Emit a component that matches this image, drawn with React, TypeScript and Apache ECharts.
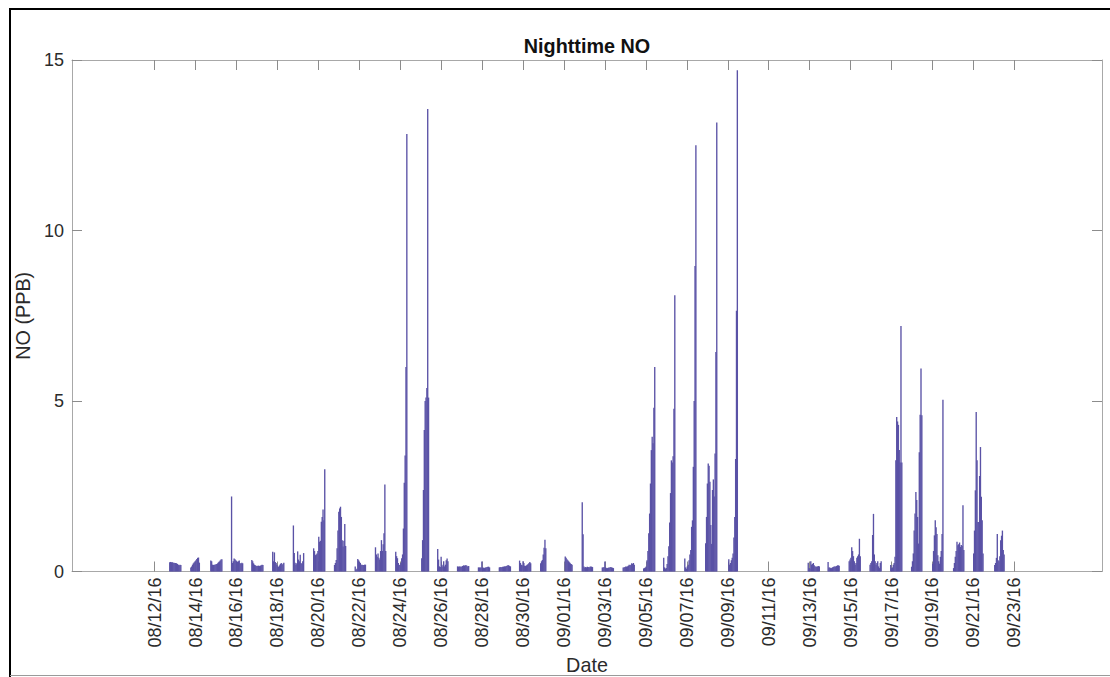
import React, { useEffect, useRef } from "react";
import * as echarts from "echarts";

// x values are days since 2016-08-12 00:00
const X_MIN = -4.035;
const X_MAX = 46.28;

const tickDays = [0, 2, 4, 6, 8, 10, 12, 14, 16, 18, 20, 22, 24, 26, 28, 30, 32, 34, 36, 38, 40, 42];
const tickLabels = [
  "08/12/16", "08/14/16", "08/16/16", "08/18/16", "08/20/16", "08/22/16", "08/24/16", "08/26/16",
  "08/28/16", "08/30/16", "09/01/16", "09/03/16", "09/05/16", "09/07/16", "09/09/16", "09/11/16",
  "09/13/16", "09/15/16", "09/17/16", "09/19/16", "09/21/16", "09/23/16",
];
const yTicks = [0, 5, 10, 15];

// start of each night's hourly record (days since 08/12/16 00:00)
const nightStartDays = [
  0.74, 1.77, 2.745, 3.76, 4.75, 5.77, 6.78, 7.77, 8.79, 9.8,
  10.79, 11.78, 13.05, 13.83, 14.8, 15.82, 16.84, 17.83, 18.86, 20.06,
  20.89, 21.87, 22.89, 23.89, 24.87, 25.9, 26.92, 28.05, 31.93, 32.9,
  33.93, 34.95, 35.96, 36.98, 38.01, 39.03, 40.01, 41.04,
];

// hourly nighttime NO (ppb) for each night
const nightValues = [
  [0.27, 0.28, 0.27, 0.27, 0.26, 0.26, 0.25, 0.25, 0.24, 0.22, 0.2, 0.18, 0.2, 0.19],
  [0.12, 0.15, 0.2, 0.24, 0.27, 0.3, 0.33, 0.37, 0.4, 0.41, 0.26],
  [0.32, 0.3, 0.2, 0.19, 0.2, 0.2, 0.21, 0.22, 0.24, 0.27, 0.29, 0.32, 0.35, 0.36],
  [2.2, 0.25, 0.3, 0.38, 0.36, 0.33, 0.3, 0.28, 0.3, 0.32, 0.25, 0.22, 0.26, 0.24],
  [0.34, 0.3, 0.24, 0.2, 0.18, 0.17, 0.16, 0.17, 0.17, 0.16, 0.17, 0.18, 0.2, 0.19],
  [0.58, 0.3, 0.56, 0.28, 0.25, 0.2, 0.15, 0.14, 0.18, 0.22, 0.25, 0.2, 0.23, 0.26],
  [1.35, 0.54, 0.26, 0.2, 0.24, 0.59, 0.35, 0.3, 0.49, 0.25, 0.22, 0.3, 0.54],
  [0.68, 0.6, 0.48, 0.5, 0.53, 0.6, 1.02, 0.87, 0.9, 1.46, 1.6, 1.82, 1.5, 3.0],
  [0.19, 0.25, 0.34, 0.68, 1.2, 1.75, 1.85, 1.9, 1.6, 0.92, 0.73, 0.9, 1.39, 0.75],
  [0.15, 0.05, 0.08, 0.37, 0.33, 0.28, 0.25, 0.2, 0.2, 0.19, 0.19, 0.2, 0.2],
  [0.71, 0.5, 0.43, 0.53, 0.4, 0.35, 0.6, 0.92, 0.6, 0.8, 1.12, 2.55, 0.6],
  [0.58, 0.45, 0.39, 0.25, 0.19, 0.2, 0.25, 0.39, 0.5, 1.26, 2.6, 3.4, 6.0, 12.83],
  [0.39, 0.92, 2.39, 4.15, 5.0, 5.1, 5.38, 13.56, 5.1],
  [0.66, 0.35, 0.15, 0.13, 0.43, 0.2, 0.15, 0.3, 0.15, 0.2, 0.33, 0.38, 0.3],
  [0.15, 0.14, 0.15, 0.15, 0.14, 0.15, 0.16, 0.18, 0.17, 0.18, 0.18, 0.17, 0.15, 0.16],
  [0.12, 0.12, 0.12, 0.12, 0.29, 0.12, 0.11, 0.1, 0.12, 0.12, 0.13, 0.14, 0.14, 0.12],
  [0.12, 0.13, 0.12, 0.13, 0.14, 0.14, 0.15, 0.15, 0.16, 0.17, 0.18, 0.18, 0.16, 0.15],
  [0.32, 0.25, 0.2, 0.18, 0.3, 0.25, 0.17, 0.16, 0.18, 0.2, 0.22, 0.25, 0.28, 0.24],
  [0.24, 0.3, 0.34, 0.5, 0.7, 0.93, 0.68],
  [0.44, 0.4, 0.36, 0.33, 0.3, 0.27, 0.24, 0.22, 0.2],
  [2.03, 1.09, 0.15, 0.12, 0.13, 0.12, 0.14, 0.13, 0.12, 0.14, 0.15, 0.14, 0.13],
  [0.12, 0.12, 0.13, 0.29, 0.12, 0.1, 0.1, 0.11, 0.12, 0.12, 0.13, 0.12, 0.11, 0.1],
  [0.12, 0.12, 0.13, 0.15, 0.14, 0.15, 0.17, 0.2, 0.18, 0.2, 0.24, 0.22, 0.25, 0.2],
  [0.09, 0.1, 0.12, 0.15, 0.33, 0.6, 1.12, 1.7, 2.58, 3.56, 3.95, 3.76, 4.8, 6.0],
  [0.4, 0.12, 0.08, 0.1, 0.22, 0.45, 0.74, 1.44, 2.3, 3.26, 3.2, 3.38, 4.77, 8.1],
  [0.38, 0.12, 0.08, 0.15, 0.2, 0.33, 0.5, 0.63, 1.31, 1.5, 3.07, 5.0, 8.96, 12.5],
  [0.83, 1.6, 2.58, 3.17, 3.1, 2.63, 1.36, 0.81, 2.39, 2.7, 2.2, 3.46, 6.44, 13.17],
  [0.36, 0.2, 0.25, 0.33, 0.4, 0.53, 1.0, 1.6, 3.3, 7.65, 14.7],
  [0.26, 0.1, 0.08, 0.3, 0.2, 0.22, 0.25, 0.18, 0.15, 0.15, 0.14, 0.15, 0.16, 0.15],
  [0.28, 0.12, 0.12, 0.1, 0.1, 0.12, 0.13, 0.15, 0.15, 0.15, 0.16, 0.18, 0.18, 0.17],
  [0.3, 0.35, 0.4, 0.71, 0.6, 0.45, 0.3, 0.2, 0.25, 0.4, 0.45, 0.5, 0.96, 0.45],
  [0.2, 0.25, 0.3, 1.07, 1.69, 0.5, 0.3, 0.2, 0.25, 0.3, 0.15, 0.1, 0.25, 0.3],
  [0.19, 0.1, 0.12, 0.2, 0.25, 0.43, 3.26, 4.53, 4.4, 4.3, 3.56, 3.2, 7.2, 3.2],
  [0.14, 0.3, 0.53, 1.2, 1.7, 2.33, 2.1, 1.6, 0.82, 3.5, 4.6, 5.95, 4.58],
  [0.23, 0.6, 1.06, 1.5, 1.3, 1.1, 0.48, 0.3, 0.23, 0.43, 0.6, 1.1, 5.04],
  [0.1, 0.25, 0.43, 0.6, 0.87, 0.77, 0.8, 0.85, 0.72, 0.78, 0.75, 1.94, 0.63],
  [0.53, 1.2, 2.38, 4.68, 3.26, 1.45, 1.45, 2.8, 3.65, 2.19, 1.5, 0.53],
  [0.19, 0.25, 0.4, 1.1, 0.33, 0.3, 0.45, 0.92, 1.05, 1.2, 0.63, 0.5],
];

const FONT = "'Liberation Sans', Arial, Helvetica, sans-serif";
const AXIS_COLOR = "#a8a8a8";
const TICK_COLOR = "#8c8c8c";
const TEXT_COLOR = "#2b2b2b";
const BAR_COLOR = "#5a52a6";

export default function App() {
  const ref = useRef<HTMLDivElement>(null);

  useEffect(() => {
    document.body.style.margin = "0";
    if (!ref.current) return;
    const chart = echarts.init(ref.current, undefined, { renderer: "svg" });

    const data: [number, number][] = [];
    nightStartDays.forEach((s, i) => {
      nightValues[i].forEach((v, j) => {
        data.push([s + j / 24, v]);
      });
    });

    const labelFor = (v: number) => {
      const idx = tickDays.indexOf(Math.round(v));
      return idx >= 0 ? tickLabels[idx] : "";
    };

    const commonX = {
      type: "value" as const,
      min: X_MIN,
      max: X_MAX,
      splitLine: { show: false },
      axisLine: { show: true, onZero: false, lineStyle: { color: AXIS_COLOR, width: 1 } },
      axisTick: { show: true, inside: true, length: 10, customValues: tickDays, lineStyle: { color: TICK_COLOR } },
    };

    const commonY = {
      type: "value" as const,
      min: 0,
      max: 15,
      interval: 5,
      splitLine: { show: false },
      axisLine: { show: true, onZero: false, lineStyle: { color: AXIS_COLOR } },
      axisTick: { show: true, inside: true, length: 10, lineStyle: { color: TICK_COLOR } },
    };

    chart.setOption({
      animation: false,
      backgroundColor: "#ffffff",
      grid: {
        left: 72,
        top: 60,
        right: 8,
        bottom: 105.5,
        containLabel: false,
        outerBoundsMode: "none",
      },
      xAxis: [
        {
          ...commonX,
          position: "bottom",
          name: "Date",
          nameLocation: "middle",
          nameGap: 83,
          nameTextStyle: { fontFamily: FONT, fontSize: 19.8, color: TEXT_COLOR },
          axisLabel: {
            show: true,
            rotate: 90,
            margin: 6,
            customValues: tickDays,
            formatter: (v: number) => labelFor(v),
            fontFamily: FONT,
            fontSize: 18,
            color: TEXT_COLOR,
          },
        },
        {
          ...commonX,
          position: "top",
          axisLabel: { show: false },
        },
      ],
      yAxis: [
        {
          ...commonY,
          position: "left",
          axisLabel: {
            margin: 8,
            fontFamily: FONT,
            fontSize: 18,
            color: TEXT_COLOR,
            customValues: yTicks,
          },
          name: "NO (PPB)",
          nameLocation: "middle",
          nameRotate: 90,
          nameGap: 27,
          nameTextStyle: { fontFamily: FONT, fontSize: 19.8, color: TEXT_COLOR },
        },
        {
          ...commonY,
          position: "right",
          axisLabel: { show: false },
        },
      ],
      graphic: [
        {
          type: "text",
          x: 587,
          y: 46,
          style: {
            text: "Nighttime NO",
            textAlign: "center",
            textVerticalAlign: "middle",
            fontFamily: FONT,
            fontWeight: "bold",
            fontSize: 19.8,
            fill: "#111111",
          },
        },
        {
          type: "line",
          shape: { x1: 9, y1: 9, x2: 1110, y2: 9 },
          style: { stroke: "#000000", lineWidth: 2 },
          silent: true,
        },
        {
          type: "line",
          shape: { x1: 10, y1: 8, x2: 10, y2: 677 },
          style: { stroke: "#000000", lineWidth: 2 },
          silent: true,
        },
        {
          type: "line",
          shape: { x1: 10, y1: 675.5, x2: 1110, y2: 675.5 },
          style: { stroke: "#9a9a9a", lineWidth: 1 },
          silent: true,
        },
      ],
      series: [
        {
          type: "bar",
          xAxisIndex: 0,
          yAxisIndex: 0,
          data,
          barWidth: 1.35,
          itemStyle: { color: BAR_COLOR },
        },
      ],
    });

    return () => chart.dispose();
  }, []);

  return <div ref={ref} style={{ width: 1110, height: 677 }} />;
}
